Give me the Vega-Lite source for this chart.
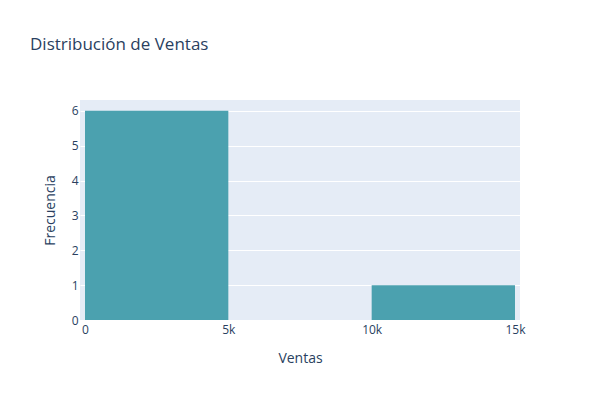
{
  "$schema": "https://vega.github.io/schema/vega-lite/v6.json",
  "width": 440,
  "height": 220,
  "autosize": "none",
  "padding": {"left": 80, "top": 100, "right": 80, "bottom": 80},
  "background": "white",
  "title": {
    "text": "Distribución de Ventas",
    "anchor": "start",
    "frame": "group",
    "dx": -50,
    "offset": 46,
    "fontSize": 17,
    "fontWeight": "normal",
    "font": "Open Sans",
    "color": "#2a3f5f"
  },
  "config": {
    "view": {"fill": "#E5ECF6", "stroke": null},
    "axis": {
      "domain": false,
      "ticks": false,
      "labelFlush": false,
      "gridColor": "white",
      "gridWidth": 1,
      "labelFont": "Open Sans",
      "titleFont": "Open Sans",
      "labelColor": "#2a3f5f",
      "titleColor": "#2a3f5f",
      "labelFontSize": 12,
      "titleFontSize": 14,
      "titleFontWeight": "normal"
    }
  },
  "data": {
    "values": [
      {"start": 0, "end": 5000, "count": 6},
      {"start": 5000, "end": 10000, "count": 0},
      {"start": 10000, "end": 15000, "count": 1}
    ]
  },
  "mark": {"type": "bar", "color": "#4BA1AF", "orient": "vertical"},
  "encoding": {
    "x": {
      "field": "start",
      "type": "quantitative",
      "scale": {"domain": [0, 15000], "nice": false},
      "axis": {"values": [0, 5000, 10000, 15000], "labelExpr": "datum.value == 0 ? '0' : datum.value / 1000 + 'k'", "grid": false, "title": "Ventas", "labelPadding": 4, "titlePadding": 16}
    },
    "x2": {"field": "end"},
    "y": {
      "field": "count",
      "type": "quantitative",
      "scale": {"domain": [0, 6.31], "nice": false},
      "axis": {"values": [0, 1, 2, 3, 4, 5, 6], "title": "Frecuencia", "labelPadding": 2, "titlePadding": 14}
    },
    "y2": {"datum": 0}
  }
}
